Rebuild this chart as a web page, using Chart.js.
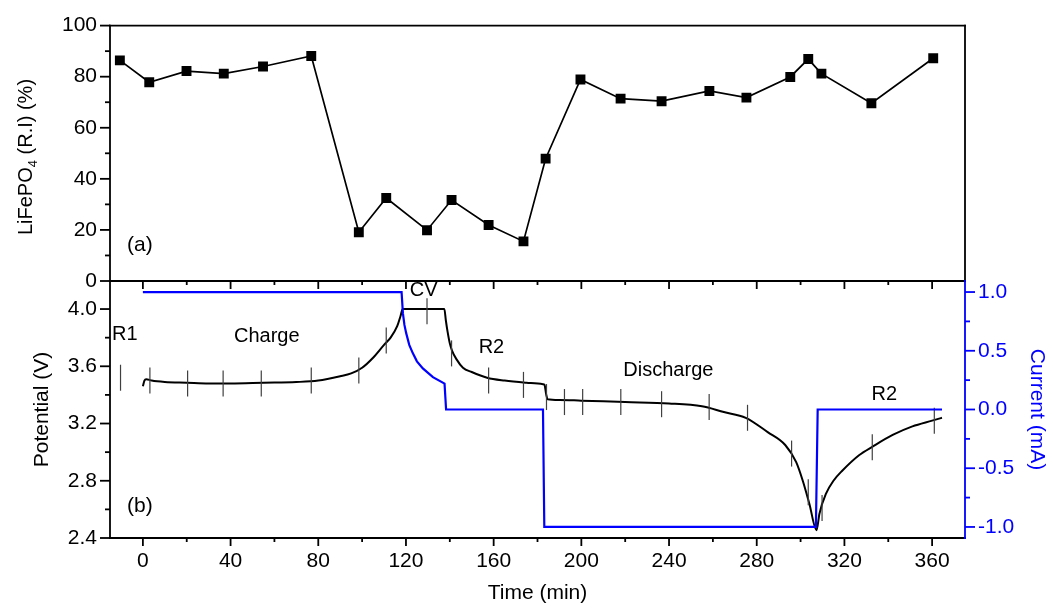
<!DOCTYPE html>
<html>
<head>
<meta charset="utf-8">
<script src="https://cdn.jsdelivr.net/npm/chart.js@4.4.0/dist/chart.umd.min.js"></script>
<style>
  body { margin: 0; background: #fff; }
  #wrap { position: relative; width: 1053px; height: 610px; }
  #wrap canvas { position: absolute; left: 0; top: 0; }
</style>
</head>
<body>
<div id="wrap">
  <canvas id="riChart" width="1053" height="610"></canvas>
  <canvas id="cellChart" width="1053" height="610"></canvas>
</div>
<script>
// (a) LiFePO4 relative intensity at each spectrum
var riTime  = [-10.5, 2.9, 19.9, 36.9, 54.8, 76.8, 98.5, 111, 129.6, 140.8, 157.7, 173.6, 183.7, 199.6, 217.9, 236.6, 258.4, 275.3, 295.3, 303.5, 309.5, 332.3, 360.5];
var riValue = [86.4, 77.8, 82.2, 81.2, 84.0, 88.1, 19.1, 32.5, 19.9, 31.7, 21.9, 15.5, 47.9, 78.9, 71.4, 70.4, 74.4, 71.8, 79.9, 86.9, 81.2, 69.6, 87.2];

// (b) cell potential
var potTime  = [0, 0.7, 1.5, 4, 10, 20, 30, 40, 55, 70, 80, 90, 95, 100, 105, 110, 113, 116, 117.5, 118.5, 128, 137.5, 138.2, 139, 140, 141, 143, 146, 150, 157, 165, 175, 182.5, 183.2, 184, 184.6, 190, 200, 220, 240, 255, 265, 275, 285, 293, 298, 301, 304, 307.3, 308.6, 311.6, 315, 319, 326.8, 333, 342, 351, 360, 364.5];
var potValue = [3.46, 3.50, 3.51, 3.50, 3.49, 3.485, 3.48, 3.48, 3.485, 3.49, 3.50, 3.53, 3.55, 3.59, 3.66, 3.75, 3.80, 3.88, 3.95, 4.00, 4.00, 4.00, 3.92, 3.84, 3.76, 3.71, 3.65, 3.59, 3.56, 3.52, 3.50, 3.485, 3.475, 3.47, 3.40, 3.37, 3.365, 3.36, 3.35, 3.34, 3.32, 3.28, 3.24, 3.14, 3.05, 2.93, 2.80, 2.64, 2.455, 2.57, 2.71, 2.80, 2.87, 2.98, 3.04, 3.12, 3.18, 3.22, 3.24];

// spectrum acquisition marks along the potential curve
var markTime  = [-10.2, 3.2, 20.4, 36.6, 54, 76.8, 98.5, 111, 129.6, 140.8, 157.7, 173.6, 184.1, 192.3, 200.6, 218, 236.6, 258.3, 275.8, 295.9, 303.5, 309.8, 332.7, 361];
var markValue = [3.52, 3.50, 3.48, 3.48, 3.48, 3.50, 3.57, 3.78, 3.985, 3.69, 3.50, 3.47, 3.385, 3.35, 3.35, 3.35, 3.335, 3.315, 3.24, 2.99, 2.72, 2.61, 3.035, 3.22];

// applied current
var curTime  = [0, 118.0, 118.6, 119.3, 120.1, 121.5, 123.1, 125, 127.7, 132.3, 137.6, 138.3, 182.5, 183.1, 307.0, 307.8, 364.5];
var curValue = [1.0, 1.0, 0.82, 0.72, 0.65, 0.55, 0.48, 0.41, 0.35, 0.275, 0.22, 0.0, 0.0, -1.0, -1.0, 0.0, 0.0];

var timeTicks  = [0, 40, 80, 120, 160, 200, 240, 280, 320, 360];
var timeMinor  = [20, 60, 100, 140, 180, 220, 260, 300, 340];
var riTicks    = [0, 20, 40, 60, 80, 100];
var riMinor    = [10, 30, 50, 70, 90];
var potTicks   = [2.4, 2.8, 3.2, 3.6, 4.0];
var potMinor   = [2.6, 3.0, 3.4, 3.8];
var curTicks   = [-1.0, -0.5, 0.0, 0.5, 1.0];
var curMinor   = [-0.75, -0.25, 0.25, 0.75];

// step names written on the potential panel (time, volts)
var stageLabels = [
  { text: 'R1', t: -8.2, v: 3.82 },
  { text: 'Charge', t: 56.5, v: 3.81 },
  { text: 'CV', t: 128.1, v: 4.13 },
  { text: 'R2', t: 159, v: 3.73 },
  { text: 'Discharge', t: 239.7, v: 3.57 },
  { text: 'R2', t: 338.2, v: 3.40 }
];

var FONT = "'Liberation Sans', Arial, sans-serif";
var BLUE = '#0000ff';
Chart.defaults.font.family = FONT;
Chart.defaults.color = '#000';

function pairs(xs, ys) {
  return xs.map(function(x, i) { return { x: x, y: ys[i] }; });
}

function fixedTicks(list) {
  return function(scale) {
    scale.ticks = list.map(function(v) { return { value: v }; });
  };
}

function strokeLine(ctx, x1, y1, x2, y2) {
  ctx.beginPath();
  ctx.moveTo(x1, y1);
  ctx.lineTo(x2, y2);
  ctx.stroke();
}

var topFrame = {
  id: 'topFrame',
  afterDraw: function(chart) {
    var ctx = chart.ctx, a = chart.chartArea, y = chart.scales.y, x = chart.scales.x;
    ctx.save();
    ctx.strokeStyle = '#000';
    ctx.lineWidth = 1.8;
    ctx.lineCap = 'square';
    strokeLine(ctx, a.left, a.bottom, a.left, a.top);
    strokeLine(ctx, a.left, a.top, a.right, a.top);
    strokeLine(ctx, a.right, a.top, a.right, a.bottom);
    ctx.lineCap = 'butt';
    riTicks.forEach(function(v) {
      var p = y.getPixelForValue(v);
      strokeLine(ctx, a.left - 10, p, a.left, p);
    });
    riMinor.forEach(function(v) {
      var p = y.getPixelForValue(v);
      strokeLine(ctx, a.left - 5, p, a.left, p);
    });

    // y title with subscript
    ctx.fillStyle = '#000';
    ctx.translate(32, 157);
    ctx.rotate(-Math.PI / 2);
    ctx.textBaseline = 'alphabetic';
    ctx.textAlign = 'left';
    ctx.font = '20px ' + FONT;
    var p1 = 'LiFePO', p3 = ' (R.I) (%)';
    var w1 = ctx.measureText(p1).width, w3 = ctx.measureText(p3).width;
    ctx.font = '13px ' + FONT;
    var w2 = ctx.measureText('4').width;
    var start = -(w1 + w2 + w3) / 2;
    ctx.font = '20px ' + FONT;
    ctx.fillText(p1, start, 0);
    ctx.fillText(p3, start + w1 + w2, 0);
    ctx.font = '13px ' + FONT;
    ctx.fillText('4', start + w1, 5);
    ctx.restore();

    ctx.save();
    ctx.fillStyle = '#000';
    ctx.font = '21px ' + FONT;
    ctx.textAlign = 'center';
    ctx.textBaseline = 'middle';
    ctx.fillText('(a)', x.getPixelForValue(-1.4), y.getPixelForValue(13.9));
    ctx.restore();
  }
};

var cellFrame = {
  id: 'cellFrame',
  afterDraw: function(chart) {
    var ctx = chart.ctx, a = chart.chartArea, s = chart.scales;
    ctx.save();
    ctx.lineWidth = 1.8;
    ctx.lineCap = 'square';
    ctx.strokeStyle = '#000';
    strokeLine(ctx, a.left, a.top, a.right, a.top);
    strokeLine(ctx, a.left, a.top, a.left, a.bottom);
    strokeLine(ctx, a.left, a.bottom, a.right, a.bottom);
    ctx.lineCap = 'butt';
    timeTicks.forEach(function(t) {
      var p = s.x.getPixelForValue(t);
      strokeLine(ctx, p, a.top, p, a.top + 8);
      strokeLine(ctx, p, a.bottom, p, a.bottom + 8);
    });
    timeMinor.forEach(function(t) {
      var p = s.x.getPixelForValue(t);
      strokeLine(ctx, p, a.top, p, a.top + 4);
      strokeLine(ctx, p, a.bottom, p, a.bottom + 4);
    });
    potTicks.forEach(function(v) {
      var p = s.yV.getPixelForValue(v);
      strokeLine(ctx, a.left - 10, p, a.left, p);
    });
    potMinor.forEach(function(v) {
      var p = s.yV.getPixelForValue(v);
      strokeLine(ctx, a.left - 5, p, a.left, p);
    });

    ctx.strokeStyle = BLUE;
    ctx.lineCap = 'square';
    strokeLine(ctx, a.right, a.top, a.right, a.bottom);
    ctx.lineCap = 'butt';
    curTicks.forEach(function(v) {
      var p = s.yI.getPixelForValue(v);
      strokeLine(ctx, a.right, p, a.right + 10, p);
    });
    curMinor.forEach(function(v) {
      var p = s.yI.getPixelForValue(v);
      strokeLine(ctx, a.right, p, a.right + 5, p);
    });

    ctx.fillStyle = '#000';
    ctx.textAlign = 'center';
    ctx.textBaseline = 'middle';
    ctx.font = '20px ' + FONT;
    stageLabels.forEach(function(l) {
      ctx.fillText(l.text, s.x.getPixelForValue(l.t), s.yV.getPixelForValue(l.v));
    });
    ctx.font = '21px ' + FONT;
    ctx.fillText('(b)', s.x.getPixelForValue(-1.4), s.yV.getPixelForValue(2.62));
    ctx.restore();
  }
};

var hideGrid = { display: false, drawTicks: false };

new Chart(document.getElementById('riChart'), {
  type: 'line',
  data: {
    datasets: [{
      data: pairs(riTime, riValue),
      borderColor: '#000',
      backgroundColor: '#000',
      borderWidth: 1.7,
      pointStyle: 'rect',
      pointRadius: 7,
      pointBorderWidth: 0,
      pointBackgroundColor: '#000',
      tension: 0
    }]
  },
  options: {
    responsive: false,
    animation: false,
    devicePixelRatio: 1,
    layout: { padding: { left: 0, top: 22, right: 88, bottom: 329 } },
    plugins: { legend: { display: false }, tooltip: { enabled: false } },
    scales: {
      x: { type: 'linear', display: false, min: -15, max: 375 },
      y: {
        min: 0, max: 100,
        afterBuildTicks: fixedTicks(riTicks),
        afterFit: function(scale) { scale.width = 110; },
        ticks: { font: { size: 21 }, padding: 13, color: '#000' },
        grid: hideGrid,
        border: { display: false }
      }
    }
  },
  plugins: [topFrame]
});

new Chart(document.getElementById('cellChart'), {
  type: 'line',
  data: {
    datasets: [{
      label: 'Current',
      data: pairs(curTime, curValue),
      yAxisID: 'yI',
      borderColor: BLUE,
      borderWidth: 2.2,
      pointRadius: 0,
      tension: 0
    }, {
      label: 'Spectra',
      data: pairs(markTime, markValue),
      yAxisID: 'yV',
      showLine: false,
      pointStyle: 'line',
      rotation: 90,
      pointRadius: 13,
      pointBorderColor: '#404040',
      pointBorderWidth: 1.2
    }, {
      label: 'Potential',
      data: pairs(potTime, potValue),
      yAxisID: 'yV',
      borderColor: '#000',
      borderWidth: 2,
      pointRadius: 0,
      cubicInterpolationMode: 'monotone'
    }]
  },
  options: {
    responsive: false,
    animation: false,
    devicePixelRatio: 1,
    layout: { padding: { left: 0, top: 281, right: 0, bottom: 0 } },
    plugins: { legend: { display: false }, tooltip: { enabled: false } },
    scales: {
      x: {
        type: 'linear', position: 'bottom', min: -15, max: 375,
        afterBuildTicks: fixedTicks(timeTicks),
        afterFit: function(scale) { scale.height = 72; },
        ticks: { font: { size: 21 }, padding: 10.5, color: '#000', maxRotation: 0 },
        grid: hideGrid,
        border: { display: false },
        title: { display: true, text: 'Time (min)', font: { size: 21 }, color: '#000', padding: { top: 0, bottom: 4.4 } }
      },
      yV: {
        position: 'left', min: 2.4, max: 4.196,
        afterBuildTicks: fixedTicks(potTicks),
        afterFit: function(scale) { scale.width = 110; },
        ticks: { font: { size: 21 }, padding: 13, color: '#000', callback: function(v) { return v.toFixed(1); } },
        grid: hideGrid,
        border: { display: false },
        title: { display: true, text: 'Potential (V)', font: { size: 21 }, color: '#000', padding: { top: 29.4, bottom: 0 } }
      },
      yI: {
        position: 'right', min: -1.094, max: 1.094,
        afterBuildTicks: fixedTicks(curTicks),
        afterFit: function(scale) { scale.width = 88; },
        ticks: { font: { size: 21 }, padding: 13, color: BLUE, callback: function(v) { return v.toFixed(1); } },
        grid: hideGrid,
        border: { display: false },
        title: { display: true, text: 'Current (mA)', font: { size: 21 }, color: BLUE, padding: { top: 3.4, bottom: 0 } }
      }
    }
  },
  plugins: [cellFrame]
});
</script>
</body>
</html>
